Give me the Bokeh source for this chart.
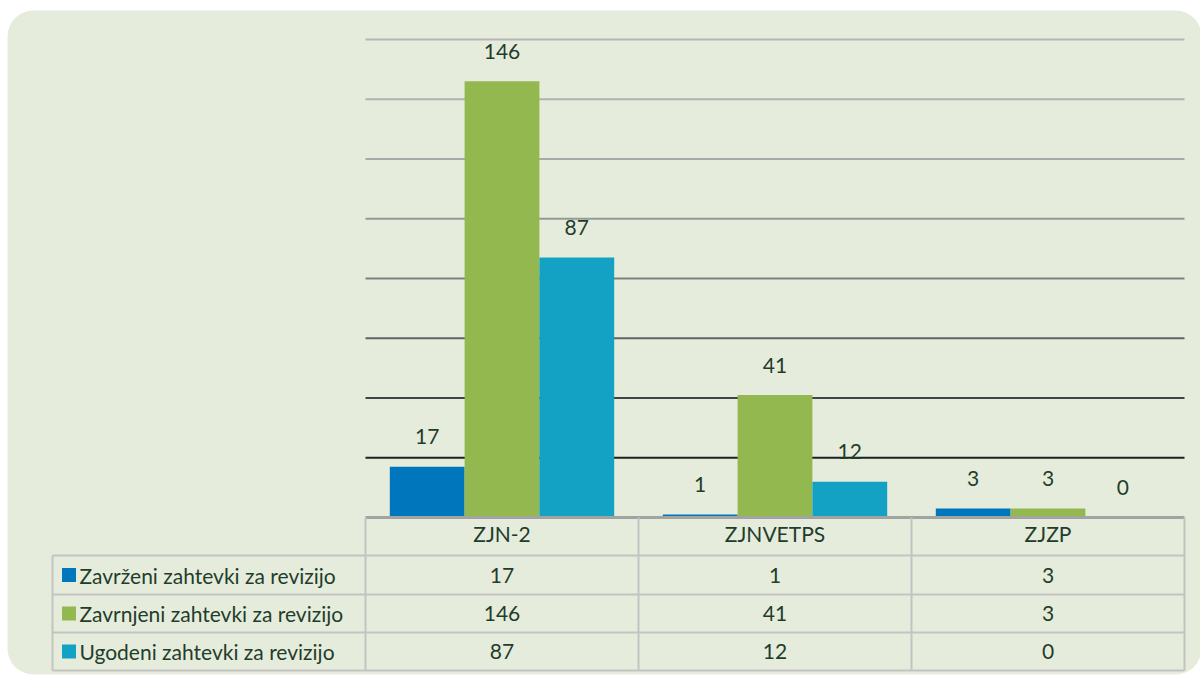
from bokeh.plotting import figure
from bokeh.models import Range1d, BoxAnnotation
from bokeh.core.properties import value
from bokeh.embed import file_html
from bokeh.resources import INLINE

# ---- data ----
categories = ["ZJN-2", "ZJNVETPS", "ZJZP"]
series_names = ["Zavrženi zahtevki za revizijo",
                "Zavrnjeni zahtevki za revizijo",
                "Ugodeni zahtevki za revizijo"]
zavrzeni = [17, 1, 3]
zavrnjeni = [146, 41, 3]
ugodeni = [87, 12, 0]
grid_values = [20, 40, 60, 80, 100, 120, 140, 160]

# ---- style ----
series = [zavrzeni, zavrnjeni, ugodeni]
colors = ["#0077BC", "#93B850", "#14A2C4"]
grid_colors = ["#1A2222", "#3C4646", "#5E6464", "#7C8080", "#969898",
               "#A8AAAA", "#B0B2B2", "#B4B6B6"]
TEXT = "#1F3D2B"
FONT = "Lato"
FS = "21px"
PANEL = "#E6ECDC"
TABLE_LINE = "#C2C4C2"

W, H = 1200, 677
PX_PER_CAT = 273.0
PX_PER_UNIT = 2.9875
PLOT_LEFT = 365.0   # canvas px of the plot area's left edge
BASE = 517.0        # canvas px of the zero line

x_start = -0.5 - PLOT_LEFT / PX_PER_CAT
x_end = x_start + W / PX_PER_CAT
y_end = BASE / PX_PER_UNIT
y_start = y_end - H / PX_PER_UNIT


def xpx(sx):
    return x_start + sx / PX_PER_CAT


def ypx(sy):
    return y_end - sy / PX_PER_UNIT


p = figure(width=W, height=H, x_range=Range1d(x_start, x_end),
           y_range=Range1d(y_start, y_end), output_backend="svg",
           toolbar_location=None, min_border=0, outline_line_color=None,
           x_axis_location=None, y_axis_location=None,
           background_fill_color="white", border_fill_color="white")
p.grid.visible = False

# rounded panel
p.add_layout(BoxAnnotation(left=xpx(7), right=xpx(1201), top=ypx(10), bottom=ypx(674),
                           fill_color=PANEL, fill_alpha=1, line_color=None,
                           border_radius=26, level="underlay"))

# gridlines (gradient from dark to light)
p.segment(x0=[-0.5] * len(grid_values), x1=[2.5] * len(grid_values),
          y0=grid_values, y1=grid_values, line_color=grid_colors, line_width=2)

# bars
bw = 0.274
offsets = [-bw, 0.0, bw]
for vals, col, off in zip(series, colors, offsets):
    xs = [i + off for i in range(len(categories))]
    p.vbar(x=xs, top=vals, bottom=0, width=bw, fill_color=col, line_color=None)
    p.text(x=xs, y=vals, text=[str(v) for v in vals], y_offset=-30,
           text_align="center", text_baseline="middle", text_color=TEXT,
           text_font=value(FONT), text_font_size=FS)

# table geometry (canvas px)
rows_px = [517, 555, 594, 632, 670]
rows = [ypx(r) for r in rows_px]
left_col = xpx(52)

# axis line at zero
p.segment(x0=[-0.5], x1=[2.5], y0=[0], y1=[0], line_color="#A2A4A2", line_width=3)

# horizontal table lines
p.segment(x0=[left_col] * 4, x1=[2.5] * 4, y0=rows[1:], y1=rows[1:],
          line_color=TABLE_LINE, line_width=2)
# vertical table lines
p.segment(x0=[-0.5, 0.5, 1.5, 2.5], x1=[-0.5, 0.5, 1.5, 2.5],
          y0=[0] * 4, y1=[rows[-1]] * 4, line_color=TABLE_LINE, line_width=2)
p.segment(x0=[left_col], x1=[left_col], y0=[rows[1]], y1=[rows[-1]],
          line_color=TABLE_LINE, line_width=2)

# header row: categories
hy = ypx(533)
p.text(x=list(range(len(categories))), y=[hy] * len(categories), text=categories,
       text_align="center", text_baseline="middle", text_color=TEXT,
       text_font=value(FONT), text_font_size=FS)

# data rows
for r, (name, vals, col) in enumerate(zip(series_names, series, colors)):
    cy = (rows[r + 1] + rows[r + 2]) / 2
    p.scatter(x=[xpx(68.5)], y=[cy], marker="square", size=14,
              fill_color=col, line_color=None)
    p.text(x=[xpx(79)], y=[cy], text=[name], text_align="left",
           text_baseline="middle", text_color=TEXT,
           text_font=value(FONT), text_font_size=FS)
    p.text(x=list(range(len(vals))), y=[cy] * len(vals), text=[str(v) for v in vals],
           text_align="center", text_baseline="middle", text_color=TEXT,
           text_font=value(FONT), text_font_size=FS)

open("out.html", "w").write(file_html(p, INLINE))
